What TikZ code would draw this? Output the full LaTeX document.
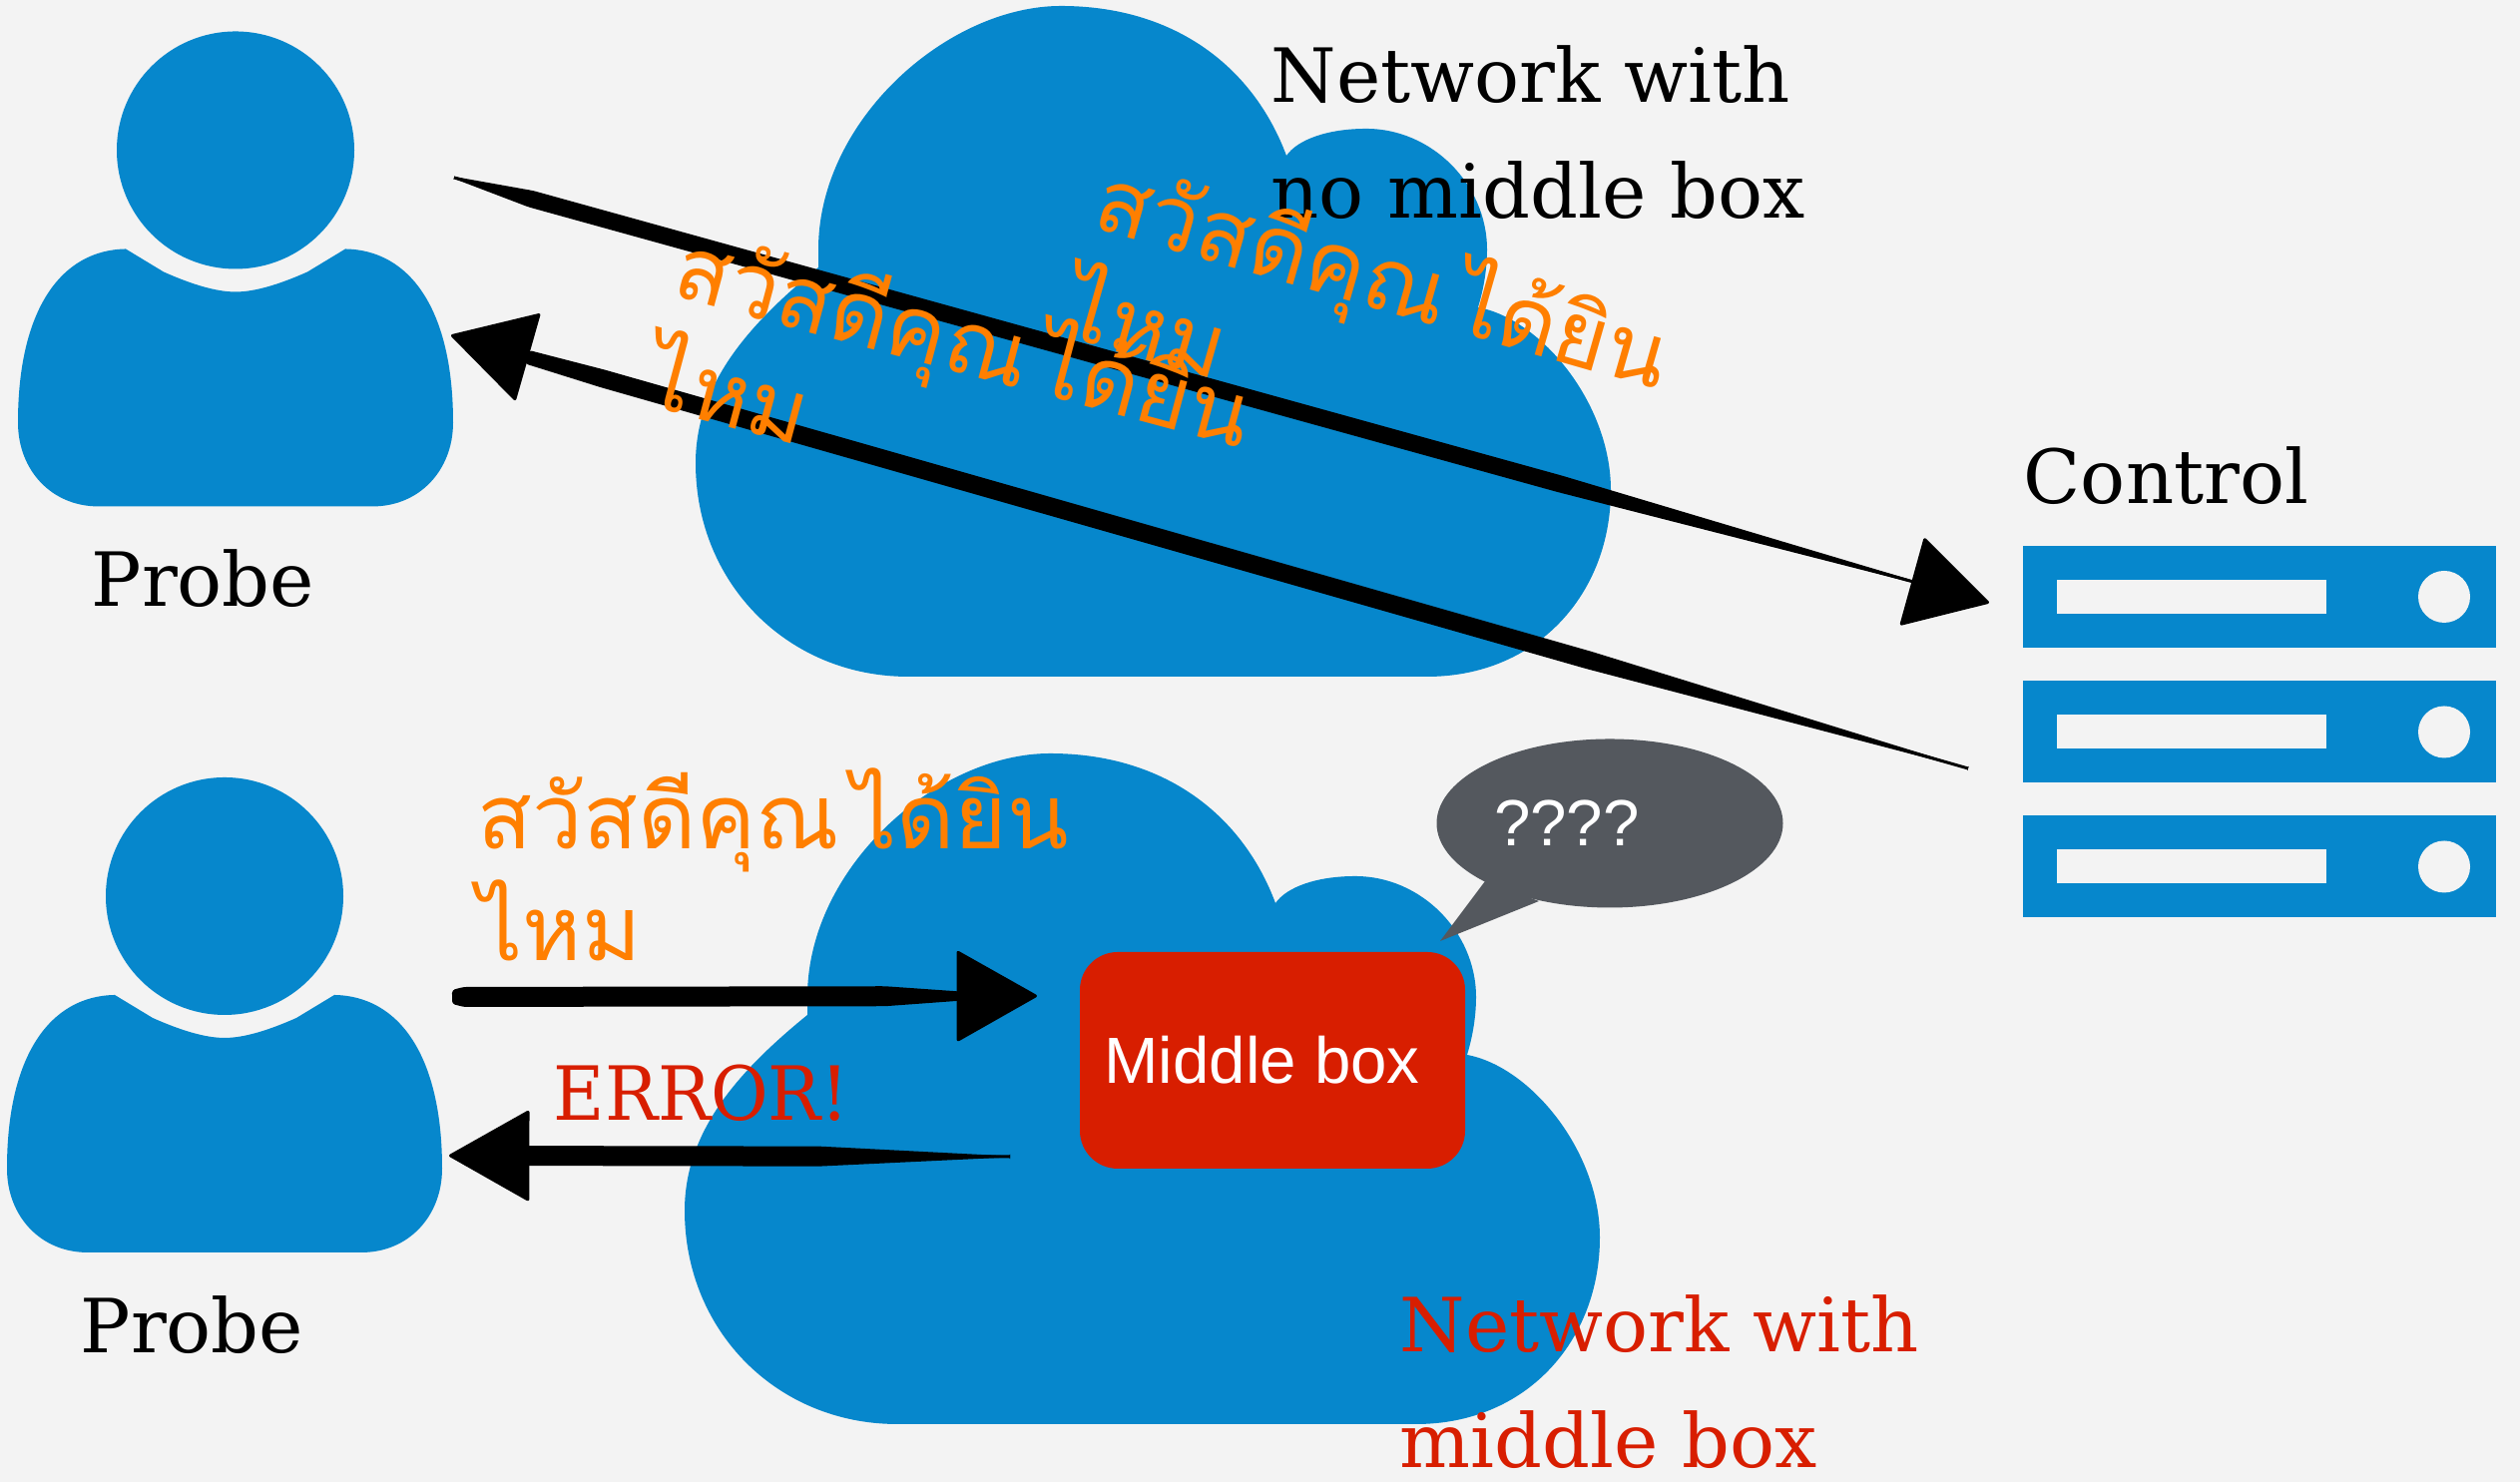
\documentclass[tikz,border=0pt]{standalone}
\usepackage{fontspec}
\setmainfont{DejaVu Serif}
\newfontfamily\thaifont[Script=Thai,WordSpace=0.4]{Loma}
\newfontfamily\boxfont{Liberation Sans}
\newfontfamily\errfont[FakeStretch=0.94]{DejaVu Serif}
\usetikzlibrary{calc,arrows.meta,shapes.geometric}
\definecolor{iconblue}{HTML}{0687CC}
\definecolor{pagegrey}{HTML}{F3F3F3}
\definecolor{alertred}{HTML}{D81E00}
\definecolor{thaiorange}{HTML}{FF7F00}
\definecolor{bubblegrey}{HTML}{54585E}
\tikzset{
	pics/personicon/.style={code={
		\fill[iconblue] (0,0) circle [x radius=1.19cm, y radius=1.19cm];
		\fill[iconblue] (-1.10,-0.99) -- (-0.72,-1.22) .. controls (-0.45,-1.34) and (-0.2,-1.42) .. (0,-1.42)
			.. controls (0.2,-1.42) and (0.45,-1.34) .. (0.72,-1.22) -- (1.10,-0.99)
			.. controls (1.75,-1.0) and (2.18,-1.6) .. (2.18,-2.73)
			.. controls (2.18,-3.2) and (1.85,-3.57) .. (1.37,-3.57) -- (-1.37,-3.57)
			.. controls (-1.85,-3.57) and (-2.18,-3.2) .. (-2.18,-2.73)
			.. controls (-2.18,-1.6) and (-1.75,-1.0) .. (-1.10,-0.99) -- cycle;
	}},
	pics/cloudicon/.style={code={
		\fill[iconblue] (9.10,8.07) -- (14.30,8.07)
			.. controls (15.40,8.07) and (16.14,8.90) .. (16.14,9.94)
			.. controls (16.14,10.8) and (15.45,11.65) .. (14.81,11.77)
			.. controls (14.88,12.0) and (14.90,12.2) .. (14.90,12.35)
			.. controls (14.90,13.0) and (14.35,13.56) .. (13.69,13.56)
			.. controls (13.3,13.56) and (13.0,13.45) .. (12.89,13.29)
			.. controls (12.55,14.2) and (11.75,14.79) .. (10.63,14.79)
			.. controls (9.5,14.79) and (8.20,13.65) .. (8.20,12.35) -- (8.20,12.17)
			.. controls (7.5,11.6) and (6.97,11.0) .. (6.97,10.21)
			.. controls (6.97,9.0) and (7.9,8.07) .. (9.10,8.07) -- cycle;
	}},
	bigtext/.style={font=\fontsize{21.3}{33}\selectfont, inner sep=0pt, align=left},
	thaitext/.style={font=\thaifont\fontsize{25.6}{32}\selectfont, text=thaiorange, inner sep=0pt, align=left},
	sanstext/.style={font=\boxfont\fontsize{18.6}{22}\selectfont, text=white, inner sep=0pt},
	inkhead/.style={line width=0.03cm, -{Triangle[length=0.82cm, width=0.92cm, round]}}
}
% brush stroke: half width at the start, body from #4 to #5 with half width #6, half width #7 at the end
\newcommand{\inkarrow}[7]{
	\fill[rounded corners=0.03cm] ($(#1)!#3!90:(#2)$) -- ($(#1)!#4!(#2)!#6!90:(#2)$) -- ($(#1)!#5!(#2)!#6!90:(#2)$) -- ($(#1)!.95!(#2)!#7!90:(#2)$)
		-- ($(#1)!.95!(#2)!#7!-90:(#2)$) -- ($(#1)!#5!(#2)!#6!-90:(#2)$) -- ($(#1)!#4!(#2)!#6!-90:(#2)$) -- ($(#1)!#3!-90:(#2)$) -- cycle;
	\draw[inkhead] (#1) -- (#2);
}
\begin{document}
\begin{tikzpicture}
	\fill[pagegrey] (0,0) rectangle (25.25,14.85);
	\useasboundingbox (0,0) rectangle (25.25,14.85);

	\pic (cloudtop) at (0,0) {cloudicon};
	\pic (cloudlow) at (-0.11,-7.49) {cloudicon};
	\pic (persontop) at (2.36,13.345) {personicon};
	\pic (personlow) at (2.25,5.87) {personicon};

	\node[bigtext, anchor=north west] (nettop) at (12.73,14.40) {Network with\\no middle box};
	\node[bigtext, anchor=north west, text=alertred] (netlow) at (14.02,1.88) {Network with\\middle box};
	\node[bigtext, anchor=base west] (probetop) at (0.91,8.77) {Probe};
	\node[bigtext, anchor=base west] (probelow) at (0.80,1.29) {Probe};
	\node[bigtext, anchor=base west] (controllabel) at (20.27,9.80) {Control};
	\node[bigtext, anchor=base west, text=alertred, font=\errfont\fontsize{21.3}{33}\selectfont] (errorlabel) at (5.54,3.62) {ERROR!};

	% server
	\foreach \barname/\y in {one/8.87, two/7.515, three/6.165} {
		\node[fill=iconblue, minimum width=4.74cm, minimum height=1.02cm, inner sep=0pt] (bar\barname) at (22.635,\y) {};
		\node[fill=pagegrey, minimum width=2.70cm, minimum height=0.34cm, inner sep=0pt] (slot\barname) at (21.96,\y) {};
		\node[fill=pagegrey, circle, minimum size=0.52cm, inner sep=0pt] (lamp\barname) at (24.49,\y) {};
	}

	% middle box
	\node[fill=alertred, rounded corners=0.38cm, minimum width=3.86cm, minimum height=2.17cm] (middlebox) at (12.75,4.225) {};
	\node[sanstext, xshift=-0.105cm] (middletext) at (middlebox) {Middle box};

	% bubble
	\node[fill=bubblegrey, ellipse, minimum width=3.47cm, minimum height=1.69cm, inner sep=0pt] (bubble) at (16.13,6.60) {};
	\coordinate (bubbletip) at (14.43,5.42);
	\fill[bubblegrey] (14.88,6.02) -- (bubbletip) -- (15.42,5.82) -- cycle;
	\node[sanstext] (bubbletext) at (15.70,6.60) {????};

	\coordinate (topstart) at (4.55,13.07);
	\coordinate (topend) at (19.93,8.81);
	\coordinate (backstart) at (19.72,7.15);
	\coordinate (backend) at (4.52,11.49);
	\coordinate (lowstart) at (4.53,4.86);
	\coordinate (lowend) at (10.39,4.87);
	\coordinate (errstart) at (10.12,3.26);
	\coordinate (errend) at (4.50,3.27);
	\inkarrow{topstart}{topend}{0.01cm}{.05}{.72}{0.085cm}{0.012cm}
	\inkarrow{backstart}{backend}{0.005cm}{.25}{.9}{0.09cm}{0.07cm}
	\inkarrow{lowstart}{lowend}{0.07cm}{.02}{.74}{0.10cm}{0.012cm}
	\inkarrow{errstart}{errend}{0.005cm}{.34}{.9}{0.10cm}{0.10cm}

	\node[thaitext, anchor=north west, rotate=-16] (thaitop) at (11.14,13.36) {\thaifont สวัสดีคุณ ได้ยิน\\ไหม};
	\node[thaitext, anchor=north west, rotate=-15] (thaimid) at (6.92,12.68) {\thaifont สวัสดีคุณ ได้ยิน\\ไหม};
	\node[thaitext, anchor=north west] (thailow) at (4.78,7.16) {\thaifont สวัสดีคุณ ได้ยิน\\ไหม};
\end{tikzpicture}
\end{document}
